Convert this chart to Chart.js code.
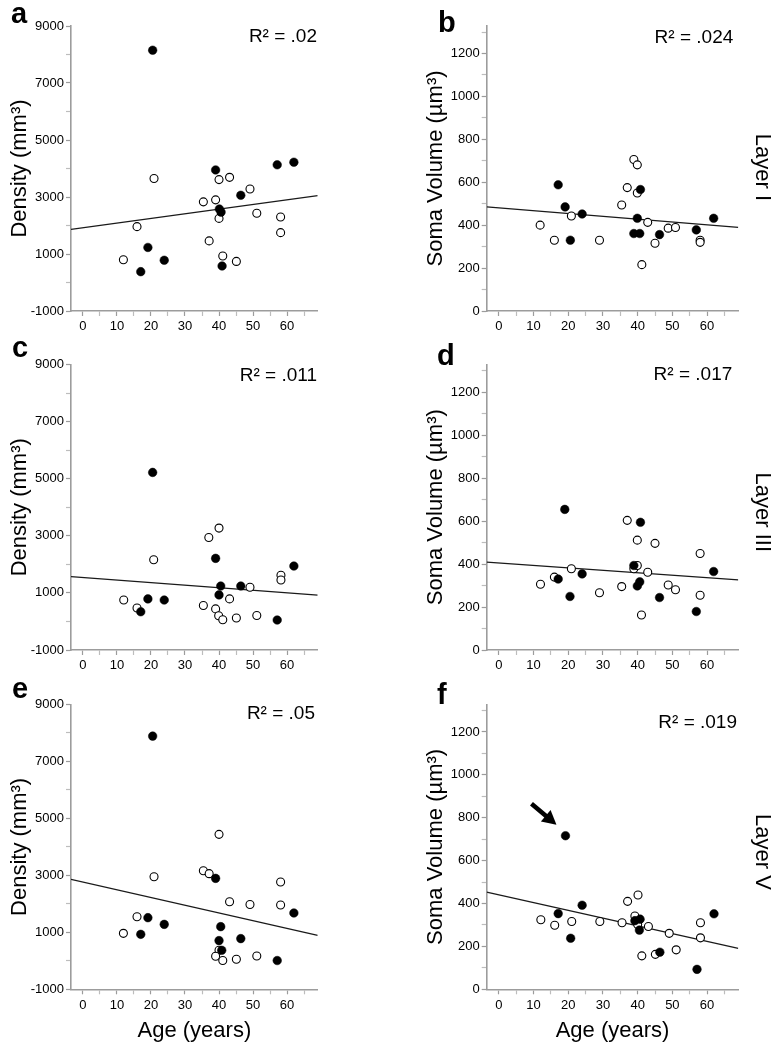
<!DOCTYPE html>
<html><head><meta charset="utf-8">
<script src="https://cdn.jsdelivr.net/npm/chart.js@4.4.1/dist/chart.umd.min.js"></script>
<style>
html,body{margin:0;padding:0;background:#fff;}
body{width:781px;height:1050px;position:relative;overflow:hidden;}
canvas{position:absolute;}
</style></head><body>
<canvas id="ca"></canvas><canvas id="cb"></canvas>
<canvas id="cc"></canvas><canvas id="cd"></canvas>
<canvas id="ce"></canvas><canvas id="cf"></canvas>
<script>
// ---------- DATA ----------
const ageTicks = [0, 10, 20, 30, 40, 50, 60];
const densityTicks = [-1000, 1000, 3000, 5000, 7000, 9000];
const volumeTicks = [0, 200, 400, 600, 800, 1000, 1200];
const fitX = [-3.5, 69];

// Layer I
const aFilled = [[20.5,8150],[19.1,1230],[17.0,380],[23.9,780],[39.0,3950],[40.1,2580],[40.6,2470],[40.9,580],[46.4,3060],[57.1,4130],[62.0,4220]];
const aOpen = [[11.9,800],[15.9,1960],[20.9,3650],[35.4,2830],[37.1,1460],[39.0,2900],[40.0,3610],[40.0,2250],[41.1,930],[43.1,3690],[45.1,740],[49.1,3280],[51.1,2430],[58.1,2300],[58.1,1750]];
const aFit = [1865, 3047];
const bFilled = [[17.1,588],[19.1,485],[20.6,330],[24.0,452],[38.9,361],[39.9,432],[40.6,361],[40.8,566],[46.3,356],[56.9,378],[61.9,432]];
const bOpen = [[11.9,400],[16.0,330],[20.9,443],[29.0,330],[35.4,494],[37.0,575],[38.9,706],[39.9,681],[39.9,550],[41.2,216],[42.9,413],[45.0,316],[48.8,386],[50.9,389],[58.0,330],[58.0,320]];
const bFit = [485, 390];
// Layer III
const cFilled = [[20.5,5220],[19.1,790],[17.0,340],[23.9,750],[39.0,2210],[40.0,930],[40.5,1240],[46.4,1240],[57.1,50],[62.0,1940]];
const cOpen = [[12.0,750],[15.9,470],[20.8,2160],[35.4,560],[37.0,2940],[39.0,440],[40.0,3270],[39.9,200],[41.1,60],[43.1,790],[45.1,120],[49.1,1200],[51.1,210],[58.2,1620],[58.2,1450]];
const cFit = [1567, 925];
const dFilled = [[19.0,654],[17.1,330],[20.5,249],[24.0,354],[38.9,393],[40.8,594],[40.6,317],[39.9,298],[46.3,244],[56.9,179],[61.9,365]];
const dOpen = [[12.0,306],[16.0,339],[20.9,378],[29.0,266],[35.4,295],[37.0,603],[38.9,378],[39.9,393],[39.9,511],[41.1,163],[42.9,362],[45.0,496],[48.8,302],[50.9,280],[58.0,449],[58.0,255]];
const dFit = [409, 326];
// Layer V
const eFilled = [[20.5,7890],[19.1,1515],[17.0,930],[23.9,1280],[39.0,2895],[40.5,1200],[40.0,710],[40.8,370],[46.4,780],[57.1,10],[62.0,1680]];
const eOpen = [[11.9,965],[15.9,1550],[20.9,2950],[35.4,3165],[37.1,3060],[40.0,4440],[40.0,370],[39.0,160],[41.1,10],[43.1,2075],[45.1,55],[49.1,1980],[51.1,170],[58.1,2765],[58.1,1960]];
const eFit = [2860, 895];
const fFilled = [[19.2,716],[17.1,353],[20.7,238],[24.0,392],[39.2,320],[40.7,327],[40.5,276],[46.4,173],[57.1,93],[62.0,352]];
const fOpen = [[12.1,324],[16.1,299],[21.0,316],[29.1,316],[35.5,310],[37.1,410],[39.2,342],[40.1,440],[40.0,302],[41.2,156],[43.1,293],[45.1,163],[49.1,261],[51.1,184],[58.1,310],[58.1,240]];
const fFit = [453, 191];

const r2Labels = ['R² = .02', 'R² = .024', 'R² = .011', 'R² = .017', 'R² = .05', 'R² = .019'];
const panelLetters = ['a', 'b', 'c', 'd', 'e', 'f'];
const layerLabels = ['Layer I', 'Layer III', 'Layer V'];

// ---------- RENDERING ----------
const FONT = "'Liberation Sans', Arial, Helvetica, sans-serif";
Chart.defaults.font.family = FONT;
Chart.defaults.color = '#000';

const AXIS_GREY = '#9c9c9c';

const pts = arr => arr.map(p => ({x: p[0], y: p[1]}));
const clean = v => Math.round(v * 1000) / 1000;
// tick positions (major ticks carry labels, minor ticks between them)
const tickRange = (from, to, step) => { const out = []; for (let v = from; v <= to + 1e-9; v += step) out.push({value: clean(v)}); return out; };

const panelTextPlugin = {
  id: 'panelText',
  afterDraw(chart, args, o) {
    const ctx = chart.ctx, ca = chart.chartArea;
    ctx.save();
    ctx.fillStyle = '#000';
    ctx.textBaseline = 'alphabetic';
    ctx.textAlign = 'left';
    ctx.font = 'bold 29px ' + FONT;
    ctx.fillText(o.letter, o.letterX, o.letterY);
    ctx.font = '19px ' + FONT;
    ctx.textAlign = 'right';
    ctx.fillText(o.r2, ca.right - o.r2Right, ca.top + o.r2Down);
    ctx.restore();
    if (o.layer) {
      ctx.save();
      ctx.translate(o.layerX, ca.top + (ca.bottom - ca.top) / 2 + o.layerDy);
      ctx.rotate(Math.PI / 2);
      ctx.fillStyle = '#000';
      ctx.font = '22px ' + FONT;
      ctx.textAlign = 'center';
      ctx.textBaseline = 'middle';
      ctx.fillText(o.layer, 0, 0);
      ctx.restore();
    }
    if (o.arrowTo) {
      ctx.save();
      const xs = chart.scales.x, ys = chart.scales.y;
      const px = xs.getPixelForValue(o.arrowTo[0]);
      const py = ys.getPixelForValue(o.arrowTo[1]);
      const tipX = px - 9, tipY = py - 11;
      const tailX = px - 34, tailY = py - 32;
      const ang = Math.atan2(tipY - tailY, tipX - tailX);
      const headLen = 14, headHalf = 7.5;
      const bx = tipX - headLen * Math.cos(ang), by = tipY - headLen * Math.sin(ang);
      ctx.strokeStyle = '#000';
      ctx.lineWidth = 4.5;
      ctx.beginPath(); ctx.moveTo(tailX, tailY); ctx.lineTo(bx + 1.5 * Math.cos(ang), by + 1.5 * Math.sin(ang)); ctx.stroke();
      ctx.fillStyle = '#000';
      ctx.beginPath();
      ctx.moveTo(tipX, tipY);
      ctx.lineTo(bx + headHalf * Math.sin(ang), by - headHalf * Math.cos(ang));
      ctx.lineTo(bx - headHalf * Math.sin(ang), by + headHalf * Math.cos(ang));
      ctx.closePath(); ctx.fill();
      ctx.restore();
    }
  }
};

const panels = [
  {id:'ca', kind:'density', filled:aFilled, open:aOpen, fit:aFit, col:0, row:0},
  {id:'cb', kind:'volume',  filled:bFilled, open:bOpen, fit:bFit, col:1, row:0},
  {id:'cc', kind:'density', filled:cFilled, open:cOpen, fit:cFit, col:0, row:1},
  {id:'cd', kind:'volume',  filled:dFilled, open:dOpen, fit:dFit, col:1, row:1},
  {id:'ce', kind:'density', filled:eFilled, open:eOpen, fit:eFit, col:0, row:2},
  {id:'cf', kind:'volume',  filled:fFilled, open:fOpen, fit:fFit, col:1, row:2},
];

// layout (pixels)
const colBox = [{left:0, width:380, yW:71, padR:62.3, titlePad:6.8},
                {left:390, width:391, yW:96.7, padR:42.7, titlePad:32.8}];
const rowBox = [{top:0, height:335, padT:26, xH:24},
                {top:337, height:337, padT:27.5, xH:24},
                {top:674, height:376, padT:30.5, xH:60.7}];
const letterPos = [[11,23],[48,32],[12,20],[47,28],[12,24],[47,30]];
const r2Pos = [[0.7,16],[5,17],[0.7,16.5],[6,15.5],[2.7,14.5],[1.3,23]];

panels.forEach((p, i) => {
  const cb = colBox[p.col], rb = rowBox[p.row];
  const cv = document.getElementById(p.id);
  cv.width = cb.width; cv.height = rb.height;
  cv.style.left = cb.left + 'px'; cv.style.top = rb.top + 'px';
  cv.style.width = cb.width + 'px'; cv.style.height = rb.height + 'px';
  const isDen = p.kind === 'density';
  const yLabels = isDen ? densityTicks : volumeTicks;
  const bottomRow = p.row === 2;

  new Chart(cv, {
    type: 'scatter',
    data: {
      datasets: [
        {data: pts(p.filled), pointRadius: 4.3, pointHoverRadius: 4.3, pointBackgroundColor: '#000', pointBorderColor: '#000', pointBorderWidth: 0.5},
        {data: pts(p.open), pointRadius: 4, pointHoverRadius: 4, pointBackgroundColor: '#fff', pointBorderColor: '#000', pointBorderWidth: 1.1},
        {data: fitX.map((x, k) => ({x, y: p.fit[k]})), showLine: true, pointRadius: 0, borderColor: '#1a1a1a', borderWidth: 1.3, fill: false}
      ]
    },
    options: {
      responsive: false, animation: false, devicePixelRatio: 1,
      layout: {padding: {left: 0, right: cb.padR, top: rb.padT, bottom: 0}},
      plugins: {
        legend: {display: false}, tooltip: {enabled: false},
        panelText: {
          letter: panelLetters[i], letterX: letterPos[i][0], letterY: letterPos[i][1],
          r2: r2Labels[i], r2Right: r2Pos[i][0], r2Down: r2Pos[i][1],
          layer: p.col === 1 ? layerLabels[p.row] : null, layerX: 372, layerDy: [-1, 5, 5][p.row],
          arrowTo: p.id === 'cf' ? fFilled[0] : null
        }
      },
      scales: {
        x: {
          type: 'linear', min: fitX[0], max: fitX[1],
          afterBuildTicks: s => { s.ticks = tickRange(ageTicks[0], 65, 5); },
          afterFit: s => { s.height = rb.xH; },
          ticks: {autoSkip: false, maxRotation: 0, padding: 3, color: '#000', font: {size: 13},
                  callback: v => ageTicks.includes(clean(v)) ? String(clean(v)) : ''},
          grid: {display: true, drawOnChartArea: false, drawTicks: true, tickLength: 5,
                 tickColor: c => (c.tick && ageTicks.includes(clean(c.tick.value))) ? AXIS_GREY : '#bdbdbd', tickWidth: 1.2},
          border: {display: true, color: AXIS_GREY, width: 1.6},
          title: {display: bottomRow, text: 'Age (years)', font: {size: 22}, color: '#000', padding: {top: 0, bottom: 5.8}}
        },
        y: {
          type: 'linear',
          min: isDen ? -1000 : 0, max: isDen ? 9000 : 1328,
          afterBuildTicks: s => { s.ticks = isDen ? tickRange(-1000, 9000, 1000) : tickRange(0, 1300, 100); },
          afterFit: s => { s.width = cb.yW; },
          ticks: {autoSkip: false, padding: 2, color: '#000', font: {size: 13},
                  callback: v => yLabels.includes(clean(v)) ? String(clean(v)) : ''},
          grid: {display: true, drawOnChartArea: false, drawTicks: true, tickLength: 5,
                 tickColor: c => (c.tick && yLabels.includes(clean(c.tick.value))) ? AXIS_GREY : '#bdbdbd', tickWidth: 1.2},
          border: {display: true, color: AXIS_GREY, width: 1.6},
          title: {display: true, text: isDen ? 'Density (mm³)' : 'Soma Volume (µm³)', font: {size: 22}, color: '#000',
                  padding: {top: cb.titlePad, bottom: 0}}
        }
      }
    },
    plugins: [panelTextPlugin]
  });
});
</script>
</body></html>
